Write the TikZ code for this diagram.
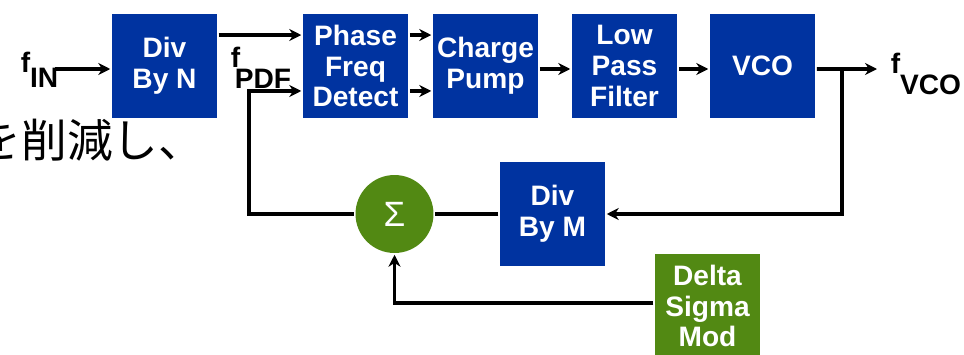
\documentclass[tikz,border=0pt]{standalone}
\usepackage{fontspec}
\setmainfont{Liberation Sans}
\newfontfamily\jpfont{Noto Sans CJK JP}
\usetikzlibrary{arrows.meta}
\definecolor{blkblue}{RGB}{0,51,160}
\definecolor{blkgreen}{RGB}{82,137,19}
\begin{document}
\begin{tikzpicture}[x=0.02cm, y=-0.02cm, line width=2pt, >={Stealth[length=2.4mm,width=2.4mm]},
		blk/.style={fill=blkblue, text=white, minimum width=2.1cm, minimum height=2.1cm, inner sep=0pt, align=center, font=\bfseries\fontsize{16}{17.6}\selectfont},
		dsbox/.style={blk, fill=blkgreen},
		sumnode/.style={circle, fill=blkgreen, text=white, minimum size=1.56cm, inner sep=0pt, font=\fontsize{20}{22}\selectfont},
		lbl/.style={anchor=base west, inner sep=0pt, font=\bfseries\fontsize{16}{17.6}\selectfont}]
	\useasboundingbox (0,0) rectangle (964,355);
	\clip (0,0) rectangle (964,355);
	\node[anchor=base west, inner sep=0pt, font=\jpfont\fontsize{26}{26}\selectfont] (jp) at (-26,157) {を削減し、};
	% top row
	\node[blk] (divn) at (164.5,66) {Div\\By N};
	\node[blk] (pfd) at (355.5,66) {Phase\\Freq\\Detect};
	\node[blk] (cp) at (485.5,66) {Charge\\Pump};
	\node[blk] (lpf) at (624.5,66) {Low\\Pass\\Filter};
	\node[blk] (vco) at (762.5,66) {VCO};
	% feedback
	\node[blk] (divm) at (552.5,214) {Div\\By M};
	\node[sumnode] (sum) at (394.5,214) {Σ};
	\node[dsbox] (dsm) at (707.5,306) {Delta\\Sigma\\Mod};
	\node[lbl] (fin) at (19,72) {f\raisebox{-9pt}{IN}};
	\node[lbl] (fpdf) at (229,67) {f\kern-3pt\raisebox{-12pt}{PDF}};
	\node[lbl] (fvco) at (889,73) {f\raisebox{-12.5pt}{VCO}};
	\coordinate (inA) at (55,69);
	\coordinate (vout) at (877,69);
	\coordinate (tap) at (842,69);
	\coordinate (lft) at (249,214);
	\draw[->] (inA) -- (inA -| divn.west);
	\draw[->] ([yshift=0.62cm]divn.east) -- ([yshift=0.62cm]pfd.west);
	\draw[->] ([yshift=0.62cm]pfd.east) -- ([yshift=0.62cm]cp.west);
	\draw[->] ([yshift=-0.5cm]pfd.east) -- ([yshift=-0.5cm]cp.west);
	\draw[->] ([yshift=-0.06cm]cp.east) -- ([yshift=-0.06cm]lpf.west);
	\draw[->] ([yshift=-0.06cm]lpf.east) -- ([yshift=-0.06cm]vco.west);
	\draw[->] ([yshift=-0.06cm]vco.east) -- (vout);
	\draw[->] (tap) |- (divm.east);
	\draw (divm.west) -- (sum.east);
	\draw[->] (sum.west) -- (lft) |- ([yshift=-0.5cm]pfd.west);
	\draw[->] ([yshift=0.06cm]dsm.west) -| (sum.south);
\end{tikzpicture}
\end{document}
